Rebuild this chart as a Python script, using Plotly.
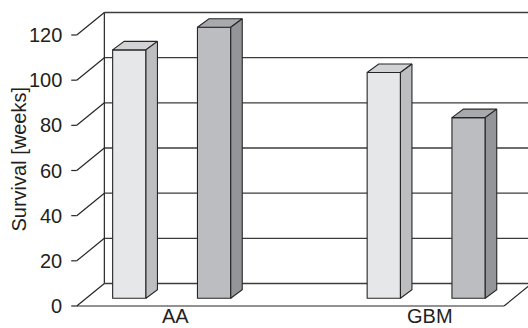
import plotly.graph_objects as go

# ---- data ----
categories = ["AA", "GBM"]
series_light = [110, 100]
series_dark = [120, 80]
y_ticks = [0, 20, 40, 60, 80, 100, 120]
y_title = "Survival [weeks]"

# ---- canvas / projection settings ----
W, H = 528, 328
SX = 254.5      # pixels per category step
SY = 2.2583     # pixels per week
X0_PX = 171.7   # pixel column of the first category (bar plane)
Y0_PX = 298.3   # pixel row of zero on the bar plane


def ux(p):
    return p / SX


def uy(p):
    return p / SY


x_range = [-X0_PX / SX, (W - X0_PX) / SX]
y_range = [-(H - Y0_PX) / SY, Y0_PX / SY]

# floor depth vector, and where the bar plane sits within it
floor_dx, floor_dy = ux(27.6), uy(22.5)
front_frac = 0.342
fdx, fdy = -front_frac * floor_dx, -front_frac * floor_dy
bdx, bdy = (1 - front_frac) * floor_dx, (1 - front_frac) * floor_dy
plane = [-0.336, 1.343]

bar_w = ux(33.3)
bar_off = ux(42.4)
bar_ddx, bar_ddy = ux(11.5), uy(8.5)

EDGE = "#262626"
GRID = "#3c3c3c"
TEXT = "#231f20"
FONT = "Liberation Sans, Arial, sans-serif"

styles = [
    dict(front="#e6e7e8", top="#d2d3d5", side="#bdbec0", shift=-bar_off),
    dict(front="#bcbdc0", top="#a8a9ac", side="#949598", shift=bar_off),
]
series = [series_light, series_dark]

fig = go.Figure()

# ---- walls, floor, gridlines and tick marks ----
shapes = []


def seg(x0, y0, x1, y1, color=GRID, width=1.3):
    shapes.append(dict(type="line", xref="x", yref="y", x0=x0, y0=y0, x1=x1, y1=y1,
                       line=dict(color=color, width=width), layer="below"))


top_v = max(y_ticks)
for v in y_ticks:
    # back-wall gridline
    seg(plane[0] + bdx, v + bdy, plane[1] + bdx + 0.05, v + bdy)
    # side-wall diagonal
    seg(plane[0] + fdx, v + fdy, plane[0] + bdx, v + bdy, color=EDGE, width=1.2)
    # tick mark on the front edge
    seg(plane[0] + fdx - ux(5.5), v + fdy, plane[0] + fdx, v + fdy, color=EDGE, width=1.2)

# back-wall left edge
seg(plane[0] + bdx, bdy, plane[0] + bdx, top_v + bdy, color=EDGE, width=1.2)
# floor front edge and right edge
seg(plane[0] + fdx, fdy, plane[1] + fdx, fdy, color=EDGE, width=1.2)
seg(plane[1] + fdx, fdy, plane[1] + bdx, bdy, color=EDGE, width=1.2)

# ---- bars: front faces ----
xs = list(range(len(categories)))
for vals, st in zip(series, styles):
    fig.add_trace(go.Bar(
        x=xs, y=vals, width=bar_w, offset=st["shift"] - bar_w / 2,
        marker=dict(color=st["front"], line=dict(color=EDGE, width=1.1)),
        hoverinfo="skip", showlegend=False,
    ))

# ---- bars: top and side faces ----
for vals, st in zip(series, styles):
    tx, ty, sx, sy = [], [], [], []
    for i, v in zip(xs, vals):
        xl = i + st["shift"] - bar_w / 2
        xr = xl + bar_w
        tx += [xl, xr, xr + bar_ddx, xl + bar_ddx, xl, None]
        ty += [v, v, v + bar_ddy, v + bar_ddy, v, None]
        sx += [xr, xr + bar_ddx, xr + bar_ddx, xr, xr, None]
        sy += [0, bar_ddy, v + bar_ddy, v, 0, None]
    for px_, py_, col in ((tx, ty, st["top"]), (sx, sy, st["side"])):
        fig.add_trace(go.Scatter(
            x=px_, y=py_, mode="lines", fill="toself", fillcolor=col,
            line=dict(color=EDGE, width=1.1), hoverinfo="skip", showlegend=False,
        ))

# ---- text ----
annotations = []
for v in y_ticks:
    annotations.append(dict(
        x=plane[0] + fdx, y=v + fdy, xref="x", yref="y", text=str(v),
        xanchor="right", yanchor="middle", xshift=-13, showarrow=False,
        font=dict(family=FONT, size=20, color=TEXT),
    ))
for i, name in zip(xs, categories):
    annotations.append(dict(
        x=i, y=fdy, xref="x", yref="y", text=name,
        xanchor="center", yanchor="top", xshift=4, yshift=3, showarrow=False,
        font=dict(family=FONT, size=20, color=TEXT),
    ))
annotations.append(dict(
    x=18 / W, y=1 - 159.5 / H, xref="paper", yref="paper", text=y_title,
    textangle=-90, xanchor="center", yanchor="middle", showarrow=False,
    font=dict(family=FONT, size=20, color=TEXT),
))

fig.update_layout(
    width=W, height=H,
    margin=dict(l=0, r=0, t=0, b=0),
    paper_bgcolor="white", plot_bgcolor="white",
    barmode="overlay",
    xaxis=dict(range=x_range, visible=False, fixedrange=True),
    yaxis=dict(range=y_range, visible=False, fixedrange=True),
    shapes=shapes, annotations=annotations,
)

fig.write_html("out.html")
